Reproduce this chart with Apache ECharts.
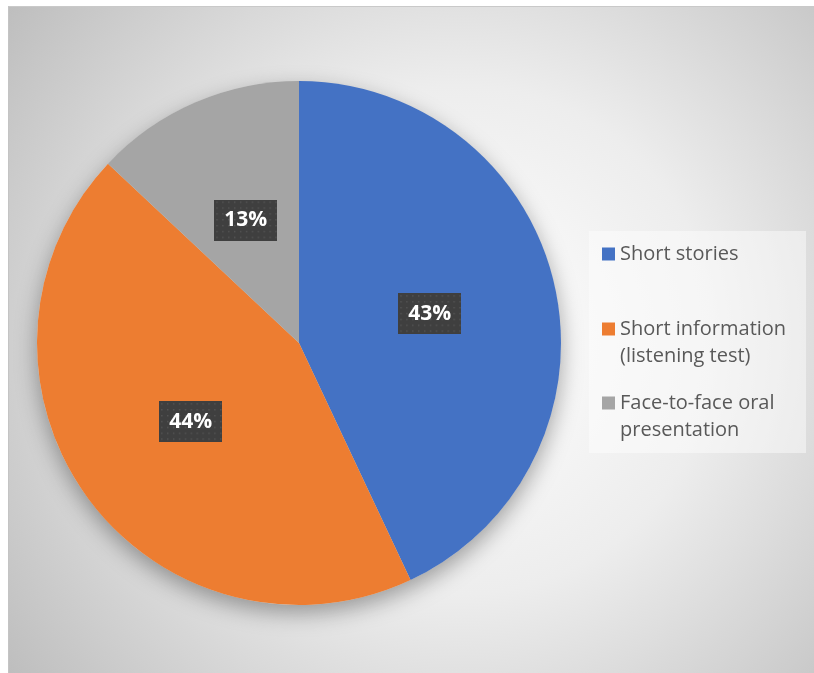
<!DOCTYPE html>
<html>
<head>
<meta charset="utf-8">
<script src="https://cdn.jsdelivr.net/npm/echarts@6/dist/echarts.min.js"></script>
<style>
  html, body { margin: 0; padding: 0; background: #ffffff; }
  #chart { position: absolute; left: 8px; top: 6px; width: 806px; height: 667px;
           box-sizing: border-box; border-left: 1px solid #c4c4c4; border-top: 1px solid #c9c9c9; }
</style>
</head>
<body>
<div id="chart"></div>
<script>
// ---- data ----
const categories = ['Short stories', 'Short information (listening test)', 'Face-to-face oral presentation'];
const values = [43, 44, 13];
const colors = ['#4472C4', '#ED7D31', '#A5A5A5'];
const legendLines = [
  ['Short stories'],
  ['Short information', '(listening test)'],
  ['Face-to-face oral', 'presentation']
];
const legendCenters = [247, 322, 396];

// dotted dark label background
function makeDotPattern(w, h) {
  const c = document.createElement('canvas');
  c.width = w; c.height = h;
  const ctx = c.getContext('2d');
  ctx.fillStyle = '#3f3f3f';
  ctx.fillRect(0, 0, w, h);
  ctx.fillStyle = '#555555';
  for (let y = 2; y < h; y += 6) {
    for (let x = 2; x < w; x += 6) {
      ctx.fillRect(x, y, 1.5, 1.5);
    }
  }
  return c;
}
const dots = makeDotPattern(64, 42);

const chart = echarts.init(document.getElementById('chart'), null, { renderer: 'canvas' });

const LH = 27;
const legends = categories.map((name, i) => {
  const nLines = legendLines[i].length;
  // leading blank lines so that the first text line sits level with the icon
  const blanks = nLines - 1;
  const halfH = (blanks + nLines) * LH / 2;
  return {
    orient: 'vertical',
    left: 593,
    top: legendCenters[i] - halfH,
    padding: 0,
    itemWidth: 13,
    itemHeight: 13,
    icon: 'rect',
    selectedMode: false,
    data: [name],
    formatter: function (n) {
      const lines = legendLines[categories.indexOf(n)];
      return '\n'.repeat(lines.length - 1) + lines.join('\n');
    },
    textStyle: { fontFamily: 'Open Sans', fontSize: 20, color: '#595959', lineHeight: LH }
  };
});

chart.setOption({
  backgroundColor: {
    type: 'radial', x: 0.56, y: 0.5, r: 0.85,
    colorStops: [
      { offset: 0, color: '#ffffff' },
      { offset: 0.45, color: '#ededed' },
      { offset: 1, color: '#bdbdbd' }
    ]
  },
  color: colors,
  graphic: [{
    type: 'rect', left: 580, top: 224, z: 0,
    shape: { width: 217, height: 222 },
    style: { fill: 'rgba(255,255,255,0.45)' }
  }],
  legend: legends,
  series: [
    {
      type: 'pie', silent: true, z: 1,
      center: [290, 336], radius: 262,
      label: { show: false }, labelLine: { show: false },
      itemStyle: { color: '#d8d8d8', shadowBlur: 22, shadowOffsetY: 8, shadowColor: 'rgba(0,0,0,0.35)' },
      data: [{ value: 1, name: '_shadow' }]
    },
    {
      type: 'pie', z: 2,
      center: [290, 336], radius: 262,
      startAngle: 90, clockwise: true,
      avoidLabelOverlap: false,
      emphasis: { disabled: true },
      itemStyle: { borderWidth: 0 },
      label: {
        show: true, position: 'inside',
        formatter: '{d}%',
        fontFamily: 'Open Sans', fontWeight: 'bold', fontSize: 21, color: '#ffffff',
        lineHeight: 25,
        padding: [8, 10, 8, 10],
        backgroundColor: { image: dots },
        shadowColor: 'rgba(0,0,0,0.45)', shadowBlur: 7, shadowOffsetX: 3, shadowOffsetY: 3
      },
      labelLine: { show: false },
      data: categories.map((n, i) => ({ name: n, value: values[i] }))
    }
  ]
});
</script>
</body>
</html>
